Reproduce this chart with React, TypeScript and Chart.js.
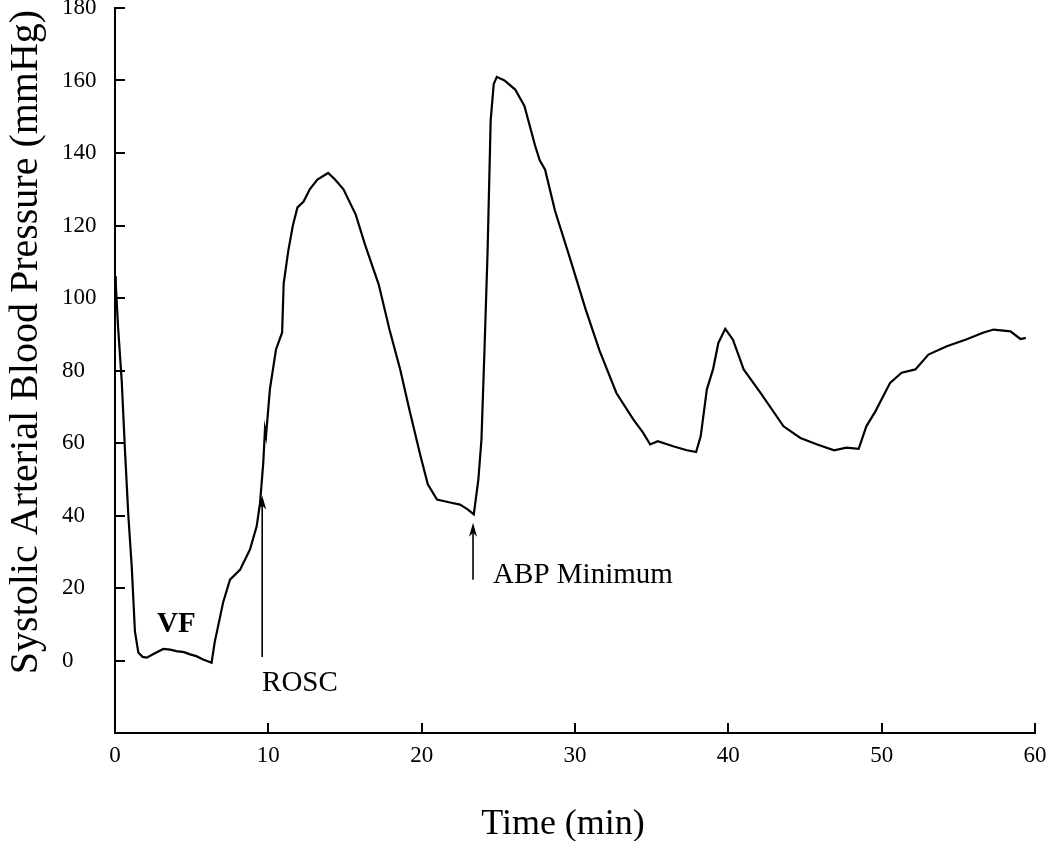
import React, { useEffect, useRef } from 'react';
import { Chart, registerables } from 'chart.js';

Chart.register(...registerables);

// ---- data ----
const timeMin = [
  0, 0.05, 0.2, 0.44, 0.65, 0.87, 1.09, 1.3, 1.52, 1.8, 2.07, 2.6, 3.15, 3.6, 4.0, 4.5, 4.9, 5.3, 5.75, 6.3,
  6.5, 6.8, 7.05, 7.5, 8.15, 8.8, 9.24, 9.46, 9.67, 9.78, 9.85, 10.1, 10.5, 10.9, 11.0, 11.3, 11.6, 11.9, 12.3, 12.7,
  13.2, 13.9, 14.35, 14.9, 15.7, 16.3, 17.2, 17.9, 18.6, 19.2, 19.9, 20.4, 21.0, 21.85, 22.5, 23.0, 23.4, 23.7, 23.9, 24.1,
  24.3, 24.5, 24.7, 24.9, 25.4, 26.1, 26.7, 27.4, 27.7, 28.05, 28.7, 29.7, 30.7, 31.6, 32.7, 33.8, 34.45, 34.9, 35.4, 36.4,
  37.3, 37.9, 38.2, 38.6, 39.0, 39.35, 39.8, 40.3, 41.0, 42.1, 43.6, 44.7, 45.8, 46.9, 47.7, 48.5, 49.0, 49.6, 50.55, 51.3,
  52.2, 53.05, 54.25, 55.55, 56.6, 57.3, 58.4, 59.05, 59.4,
];
const systolicPressure = [
  106, 104, 92, 77, 58, 40, 26, 8, 2.2, 1, 0.8, 2, 3.2, 3, 2.6, 2.3, 1.7, 1.2, 0.3, -0.6,
  5, 11, 16, 22.3, 25, 30.6, 37, 43.5, 54.6, 63.7, 62, 74.8, 85.8, 90.5, 104, 113, 120, 125, 126.6, 130,
  132.7, 134.5, 132.7, 130, 123, 114.8, 103.7, 91.3, 80.3, 69.2, 56.8, 48.6, 44.4, 43.6, 43, 41.7, 40.3, 50, 61, 86,
  113, 149, 159, 161, 160, 157.5, 153, 142, 138, 135.4, 124, 110.6, 96.8, 85.5, 73.8, 66.5, 62.8, 59.6, 60.5, 59.1,
  58, 57.5, 61.9, 74.8, 80.3, 87.6, 91.5, 88.5, 80.3, 73.8, 64.6, 61.4, 59.6, 58, 58.7, 58.4, 64.6, 68.8, 76.6, 79.4,
  80.3, 84.4, 86.7, 88.6, 90.4, 91.3, 90.8, 88.7, 89,
];
const xTickValues = [0, 10, 20, 30, 40, 50, 60];
const yTickValues = [-20, 0, 20, 40, 60, 80, 100, 120, 140, 160, 180];
const xTitle = 'Time (min)';
const yTitle = 'Systolic Arterial Blood Pressure (mmHg)';
const noteTexts = ['VF', 'ROSC', 'ABP Minimum'];
const noteX = [2.74, 9.59, 24.66];
const noteY = [8, -8.5, 21.5];
const noteBold = [true, false, false];
const arrowX = [9.6, 23.35];
const arrowFromY = [1, 22.3];
const arrowToY = [45.5, 38];

const FONT = "'Liberation Serif', 'Times New Roman', serif";

const decorPlugin = {
  id: 'decor',
  afterDraw(chart: any) {
    const { ctx, chartArea } = chart;
    const xs = chart.scales.x;
    const ys = chart.scales.y;
    ctx.save();
    ctx.strokeStyle = '#000';
    ctx.fillStyle = '#000';
    ctx.lineWidth = 2;
    // inward tick marks
    yTickValues.forEach((v) => {
      if (v === yTickValues[0]) return;
      const py = Math.round(ys.getPixelForValue(v));
      ctx.beginPath();
      ctx.moveTo(chartArea.left, py);
      ctx.lineTo(chartArea.left + 10, py);
      ctx.stroke();
    });
    xTickValues.forEach((v) => {
      if (v === xTickValues[0]) return;
      const px = Math.round(xs.getPixelForValue(v));
      ctx.beginPath();
      ctx.moveTo(px, chartArea.bottom);
      ctx.lineTo(px, chartArea.bottom - 10);
      ctx.stroke();
    });
    // arrows
    ctx.lineWidth = 1.6;
    arrowX.forEach((ax, i) => {
      const px = xs.getPixelForValue(ax);
      const y0 = ys.getPixelForValue(arrowFromY[i]);
      const y1 = ys.getPixelForValue(arrowToY[i]);
      ctx.beginPath();
      ctx.moveTo(px, y0);
      ctx.lineTo(px, y1 + 6);
      ctx.stroke();
      ctx.beginPath();
      ctx.moveTo(px, y1);
      ctx.lineTo(px - 4, y1 + 14);
      ctx.lineTo(px, y1 + 10);
      ctx.lineTo(px + 4, y1 + 14);
      ctx.closePath();
      ctx.fill();
    });
    // notes
    ctx.textAlign = 'left';
    ctx.textBaseline = 'alphabetic';
    noteTexts.forEach((t, i) => {
      ctx.font = `${noteBold[i] ? 'bold ' : ''}29px ${FONT}`;
      ctx.fillText(t, xs.getPixelForValue(noteX[i]), ys.getPixelForValue(noteY[i]));
    });
    // axis titles
    ctx.font = `36px ${FONT}`;
    ctx.textAlign = 'center';
    ctx.fillText(xTitle, 563, 834);
    ctx.save();
    ctx.translate(37, 342);
    ctx.rotate(-Math.PI / 2);
    ctx.font = `40px ${FONT}`;
    ctx.fillText(yTitle, 0, 0);
    ctx.restore();
    ctx.restore();
  },
};

export default function App() {
  const ref = useRef<HTMLCanvasElement | null>(null);
  useEffect(() => {
    if (!ref.current) return;
    Chart.defaults.font.family = FONT;
    const chart = new Chart(ref.current, {
      type: 'line',
      data: {
        datasets: [
          {
            data: timeMin.map((t, i) => ({ x: t, y: systolicPressure[i] })),
            borderColor: '#000',
            borderWidth: 2.2,
            pointRadius: 0,
            tension: 0,
            fill: false,
          },
        ],
      },
      options: {
        animation: false,
        responsive: false,
        devicePixelRatio: 1,
        layout: { padding: { top: 8, right: 15, left: 62, bottom: 0 } },
        plugins: { legend: { display: false }, tooltip: { enabled: false } },
        scales: {
          x: {
            type: 'linear',
            min: 0,
            max: 60,
            afterBuildTicks: (s: any) => {
              s.ticks = xTickValues.map((v) => ({ value: v }));
            },
            ticks: { color: '#000', font: { size: 23, family: FONT }, padding: 9, maxRotation: 0, autoSkip: false },
            grid: { display: false, drawTicks: false },
            border: { display: true, color: '#000', width: 2 },
            afterFit: (s: any) => {
              s.height = 108;
              s.paddingRight = 15;
              s.paddingLeft = 0;
            },
          },
          y: {
            type: 'linear',
            min: -20,
            max: 180,
            afterBuildTicks: (s: any) => {
              s.ticks = yTickValues.map((v) => ({ value: v }));
            },
            ticks: {
              color: '#000',
              font: { size: 23, family: FONT },
              padding: 18,
              crossAlign: 'far',
              autoSkip: false,
              callback: (v: any) => (v === yTickValues[0] ? '' : String(v)),
            },
            grid: { display: false, drawTicks: false },
            border: { display: true, color: '#000', width: 2 },
            afterFit: (s: any) => {
              s.width = 53;
              s.paddingTop = 8;
              s.paddingBottom = 0;
            },
          },
        },
      },
      plugins: [decorPlugin],
    } as any);
    return () => chart.destroy();
  }, []);
  return (
    <div style={{ position: 'absolute', left: 0, top: 0, width: 1050, height: 841, background: '#fff' }}>
      <canvas ref={ref} width={1050} height={841} style={{ display: 'block' }} />
    </div>
  );
}
